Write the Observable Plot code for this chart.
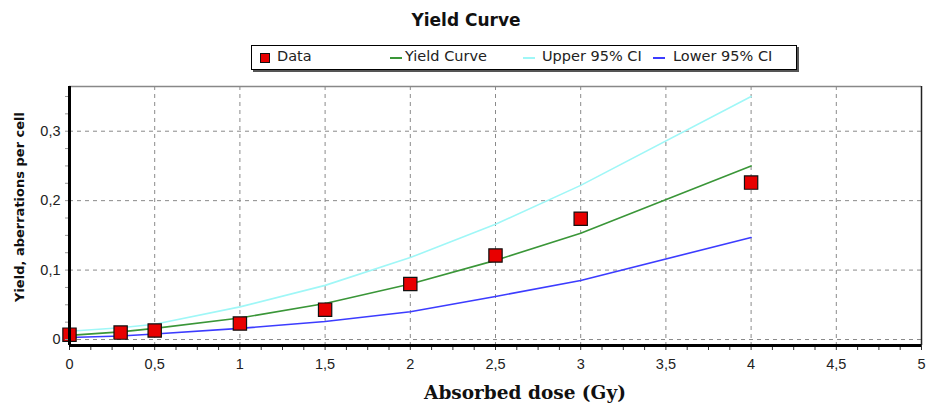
<!DOCTYPE html>
<html><head><meta charset="utf-8">
<script src="https://cdn.jsdelivr.net/npm/d3@7"></script>
<script src="https://cdn.jsdelivr.net/npm/@observablehq/plot@0.6"></script>
<style>
body{margin:0;background:#fff;font-family:"Liberation Sans",Arial,sans-serif;}
#wrap{position:relative;width:927px;height:408px;overflow:hidden;}
#title{position:absolute;left:0;width:932px;top:10px;text-align:center;font-weight:bold;font-size:17px;font-family:"DejaVu Sans",sans-serif;color:#111;}
#legend{position:absolute;left:251px;top:45px;width:544px;height:23px;border:1px solid #000;background:#fff;box-shadow:2px 2px 0 #555;font-size:14.5px;font-family:"DejaVu Sans",sans-serif;color:#222;}
#legend span{position:absolute;top:2px;}
#legend i{position:absolute;display:block;}
#ylab{position:absolute;left:19px;top:207px;transform:translate(-50%,-50%) rotate(-90deg);white-space:nowrap;font-weight:bold;font-size:13px;font-family:"DejaVu Sans",sans-serif;color:#111;}
#xlab{position:absolute;left:525px;top:382px;transform:translateX(-50%);white-space:nowrap;font-weight:bold;font-size:18.5px;font-family:"DejaVu Serif","Liberation Serif",serif;color:#111;}
svg{position:absolute;left:0;top:0;}
</style></head>
<body><div id="wrap">
<div id="title">Yield Curve</div>
<div id="ylab">Yield, aberrations per cell</div>
<div id="xlab">Absorbed dose (Gy)</div>
</div>
<script>
const doses = [0, 0.3, 0.5, 1, 1.5, 2, 2.5, 3, 4];
const dataYield = [0.007, 0.010, 0.013, 0.023, 0.043, 0.080, 0.121, 0.174, 0.226];
const fitYield = [0.006, 0.011, 0.016, 0.031, 0.052, 0.080, 0.114, 0.153, 0.250];
const upperCI = [0.012, 0.017, 0.022, 0.047, 0.078, 0.118, 0.166, 0.222, 0.350];
const lowerCI = [0.003, 0.005, 0.008, 0.016, 0.026, 0.040, 0.062, 0.085, 0.147];
const xTicks = [0, 0.5, 1, 1.5, 2, 2.5, 3, 3.5, 4, 4.5, 5];
const yTicks = [0, 0.1, 0.2, 0.3];
const seriesNames = ["Data", "Yield Curve", "Upper 95% CI", "Lower 95% CI"];
const seriesColors = ["#e80000", "#3a9638", "#9ff7f7", "#3c3cff"];

const rows = doses.map((d, i) => ({dose: d, data: dataYield[i], fit: fitYield[i], up: upperCI[i], lo: lowerCI[i]}));
const fmt = d => String(d).replace(".", ",");
const yMin = -0.0086, yMax = 0.3644;
const minorX = d3.range(0, 5.0001, 0.125);
const minorY = d3.range(0, 0.36, 0.025);

const chart = Plot.plot({
  width: 927, height: 408,
  marginLeft: 69, marginRight: 6, marginTop: 86, marginBottom: 63,
  style: {fontFamily: "Liberation Sans, Arial, sans-serif", fontSize: "14.5px", color: "#222", background: "transparent"},
  x: {domain: [0, 5]},
  y: {domain: [yMin, yMax]},
  marks: [
    Plot.gridX(xTicks, {stroke: "#8a8a8a", strokeOpacity: 1, strokeDasharray: "4,4"}),
    Plot.gridY(yTicks, {stroke: "#8a8a8a", strokeOpacity: 1, strokeDasharray: "4,4"}),
    Plot.ruleY([yMax], {stroke: "#888", strokeWidth: 1.5}),
    Plot.ruleX([5], {stroke: "#222", strokeWidth: 1.5}),
    Plot.line(rows, {x: "dose", y: "up", stroke: seriesColors[2], strokeWidth: 1.6}),
    Plot.line(rows, {x: "dose", y: "fit", stroke: seriesColors[1], strokeWidth: 1.6}),
    Plot.line(rows, {x: "dose", y: "lo", stroke: seriesColors[3], strokeWidth: 1.6}),
    Plot.dot(rows, {x: "dose", y: "data", symbol: "square", r: 7.5, fill: seriesColors[0], stroke: "#111", strokeWidth: 1.2}),
    Plot.axisX(minorX, {tickSize: 5, text: null, stroke: "#333", label: null}),
    Plot.axisX(xTicks, {tickSize: 0, tickPadding: 13, tickFormat: fmt, fill: "#222", label: null}),
    Plot.axisY(minorY, {tickSize: 4, text: null, stroke: "#999", label: null}),
    Plot.axisY(yTicks, {tickSize: 0, tickPadding: 9, tickFormat: fmt, fill: "#222", label: null}),
    Plot.ruleX([0], {stroke: "#000", strokeWidth: 3}),
    Plot.ruleY([yMin], {stroke: "#000", strokeWidth: 3})
  ]
});
const wrap = document.getElementById("wrap");
wrap.insertBefore(chart, wrap.firstChild);

// Legend
const leg = document.createElement("div");
leg.id = "legend";
const pos = [{m: 8, t: 25}, {m: 138, t: 153}, {m: 271, t: 290}, {m: 401, t: 421}];
seriesNames.forEach((name, i) => {
  const mk = document.createElement("i");
  if (i === 0) {
    Object.assign(mk.style, {left: pos[i].m + "px", top: "7px", width: "8px", height: "8px", background: seriesColors[0], border: "1px solid #111"});
  } else {
    Object.assign(mk.style, {left: pos[i].m + "px", top: "11px", width: "12px", height: "2px", background: seriesColors[i]});
  }
  leg.appendChild(mk);
  const s = document.createElement("span");
  s.style.left = pos[i].t + "px";
  s.textContent = name;
  leg.appendChild(s);
});
wrap.appendChild(leg);
</script>
</body></html>
